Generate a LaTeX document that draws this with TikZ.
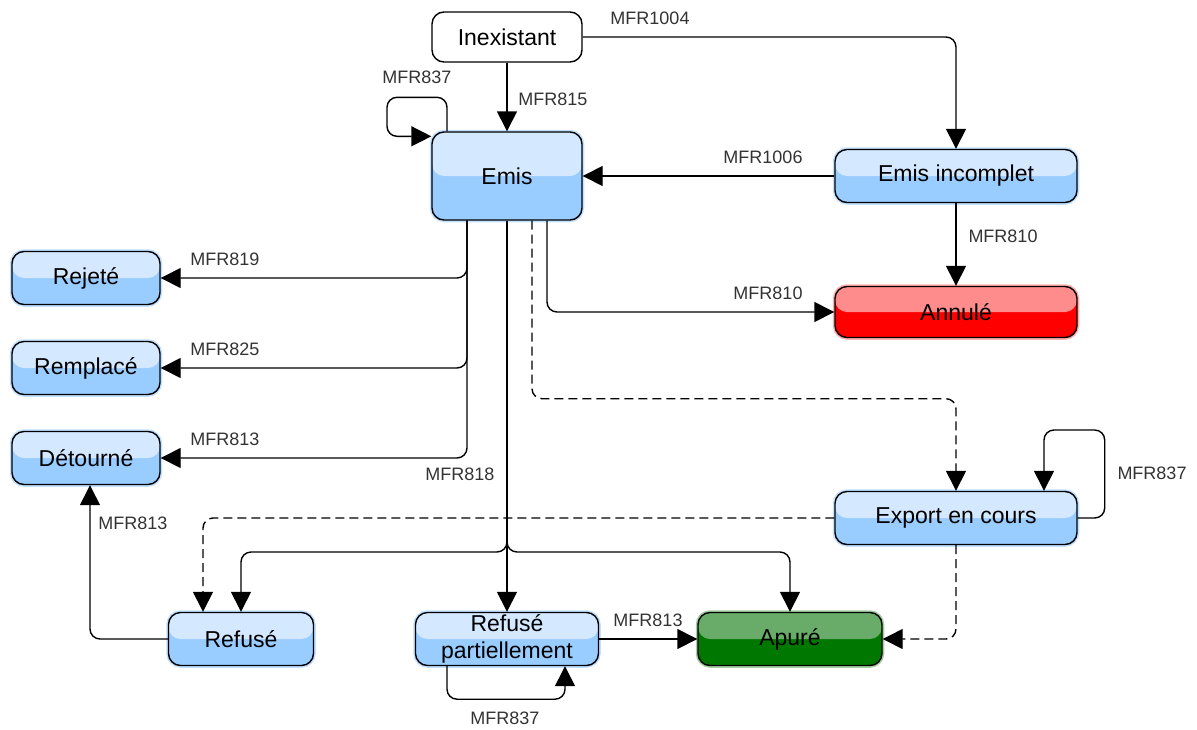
\documentclass[tikz,border=0pt]{standalone}
\usepackage{fontspec}
\setmainfont{Liberation Sans}
\usetikzlibrary{arrows.meta}
\definecolor{bluetop}{RGB}{212,233,255}
\definecolor{bluebot}{RGB}{153,204,255}
\definecolor{redtop}{RGB}{255,140,140}
\definecolor{redbot}{RGB}{255,0,0}
\definecolor{greentop}{RGB}{105,172,105}
\definecolor{greenbot}{RGB}{0,120,0}
\definecolor{lblgray}{RGB}{51,51,51}
\newcommand{\statefont}{\fontsize{23}{27}\selectfont}
\newcommand{\lblfont}{\fontsize{18}{20}\selectfont}
\tikzstyle{state} = [rectangle, rounded corners=12pt, minimum height=53pt, text centered, draw=black, line width=1.4pt, font=\statefont, inner sep=1pt]
\tikzstyle{whitestate} = [state, fill=white]
\tikzstyle{bluestate} = [state, fill=bluebot, preaction={draw=bluebot!60, line width=4.5pt}, path picture={\fill[bluetop] (path picture bounding box.north west) rectangle (path picture bounding box.east);}]
\tikzstyle{redstate} = [state, fill=redbot, preaction={draw=redtop!70, line width=4.5pt}, path picture={\fill[redtop] (path picture bounding box.north west) rectangle (path picture bounding box.east);}]
\tikzstyle{greenstate} = [state, fill=greenbot, preaction={draw=greentop!60, line width=4.5pt}, path picture={\fill[greentop] (path picture bounding box.north west) rectangle (path picture bounding box.east);}]
\tikzstyle{lbl} = [font=\lblfont, text=lblgray, inner sep=0pt]
\tikzstyle{arrow} = [line width=1.4pt, rounded corners=10pt, -{Triangle[length=20pt,width=20pt]}]
\tikzstyle{dasharrow} = [arrow, dash pattern=on 9pt off 5pt]

\begin{document}
\begin{tikzpicture}[x=1pt,y=-1pt]
\useasboundingbox (0,0) rectangle (1197,729);

% states
\node[whitestate, minimum width=150pt, minimum height=50pt] (inex) at (507,37) {Inexistant};
\node[bluestate, minimum width=150pt, minimum height=88pt] (emis) at (507,176) {Emis};
\node[bluestate, minimum width=242pt] (emisinc) at (956,176) {Emis incomplet};
\node[redstate, minimum width=242pt, minimum height=51pt] (annule) at (956,312) {Annulé};
\node[bluestate, minimum width=242pt] (export) at (956,518) {Export en cours};
\node[bluestate, minimum width=148pt] (rejete) at (86,278) {Rejeté};
\node[bluestate, minimum width=148pt] (remplace) at (86,368) {Remplacé};
\node[bluestate, minimum width=148pt] (detourne) at (86,458) {Détourné};
\node[bluestate, minimum width=145pt] (refuse) at (241,639) {Refusé};
\node[bluestate, minimum width=183pt, align=center] (refpart) at (507,639) {Refusé\\partiellement};
\node[greenstate, minimum width=184pt] (apure) at (790,639) {Apuré};

% transitions
\draw[arrow] (inex) -- (emis);
\draw[arrow] (inex.east) -| (emisinc.north);
\draw[arrow] (emisinc) -- (emis);
\draw[arrow] (emisinc) -- (annule);
\draw[arrow] ([xshift=40]emis.south) |- (annule.west);
\foreach \n in {rejete,remplace,detourne}
	\draw[arrow] ([xshift=-40]emis.south) |- (\n.east);
\draw[arrow] ([xshift=-60]emis.north) -- ++(0,-34) -- ++(-60,0) |- ([yshift=-5]emis.north west);
\draw[dasharrow] ([xshift=25]emis.south) -- ++(0,178) -| (export.north);
\draw[arrow] (export.east) -- ++(27,0) -- ++(0,-88) -| ([xshift=88]export.north);
\draw[dasharrow] (export.west) -| ([xshift=-38]refuse.north);
\draw[dasharrow] (export.south) |- (apure.east);
\coordinate (fork) at (507,530);
\coordinate (forkb) at (507,552);
\draw[arrow] (emis) -- (refpart);
\draw[arrow] (fork) |- (refuse.north |- forkb) -- (refuse.north);
\draw[arrow] (fork) |- (apure.north |- forkb) -- (apure.north);
\draw[arrow] (refpart) -- (apure);
\draw[arrow] ([xshift=-60]refpart.south) -- ++(0,33) -| ([xshift=58]refpart.south);
\draw[arrow] (refuse.west) -| ([xshift=4]detourne.south);

% labels
\node[lbl] (l1004) at (650,18) {MFR1004};
\node[lbl] (l815) at (553,99) {MFR815};
\node[lbl] (l837a) at (417,77) {MFR837};
\node[lbl] (l1006) at (763,157) {MFR1006};
\node[lbl] (l810a) at (1003,236) {MFR810};
\node[lbl] (l810b) at (768,293) {MFR810};
\node[lbl] (l819) at (225,259) {MFR819};
\node[lbl] (l825) at (225,349) {MFR825};
\node[lbl] (l813a) at (225,439) {MFR813};
\node[lbl] (l818) at (460,474) {MFR818};
\node[lbl] (l813b) at (133,523) {MFR813};
\node[lbl] (l837b) at (1152,473) {MFR837};
\node[lbl] (l813c) at (648,620) {MFR813};
\node[lbl] (l837c) at (505,718) {MFR837};
\end{tikzpicture}
\end{document}
